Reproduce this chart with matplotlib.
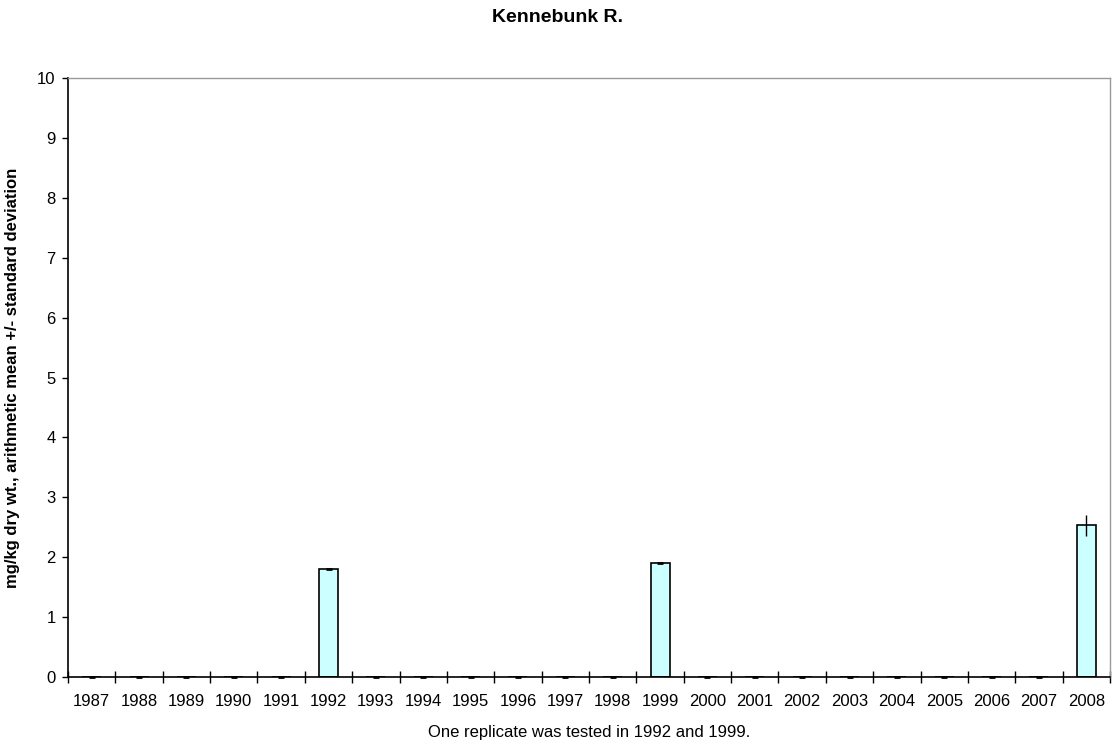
import matplotlib
matplotlib.use("Agg")
import matplotlib.pyplot as plt
import numpy as np

plt.rcParams['font.family'] = ['Liberation Sans', 'DejaVu Sans']

years = [str(y) for y in range(1987, 2009)]
means = [0, 0, 0, 0, 0, 1.80, 0, 0, 0, 0, 0, 0, 1.90, 0, 0, 0, 0, 0, 0, 0, 0, 2.53]
sds = [0, 0, 0, 0, 0, 0, 0, 0, 0, 0, 0, 0, 0, 0, 0, 0, 0, 0, 0, 0, 0, 0.18]

W, H = 1116, 744
fig = plt.figure(figsize=(W / 100, H / 100), dpi=100)
left, right, top, bottom = 68, 1110, 78, 677
ax = fig.add_axes([left / W, 1 - bottom / H, (right - left) / W, (bottom - top) / H])
x = np.arange(len(years))
m = np.array(means)
s = np.array(sds)
ax.bar(x, m, width=0.4, color='#ccffff', edgecolor='black', linewidth=1.2, zorder=2)
has_sd = s > 0
ax.errorbar(x[has_sd], m[has_sd], yerr=s[has_sd], fmt='none', ecolor='black',
            elinewidth=1, capsize=0, zorder=3)
ax.plot(x[~has_sd], m[~has_sd], linestyle='none', marker='_', markersize=4,
        markeredgewidth=2, color='black', zorder=3, clip_on=False)

ax.set_xlim(-0.5, len(years) - 0.5)
ax.set_ylim(0, 10)
ax.set_yticks(range(0, 11))
ax.set_xticks(x)
ax.set_xticklabels(years, fontsize=12)
ax.set_xticks(np.arange(-0.5, len(years), 1), minor=True)
ax.tick_params(axis='x', which='major', length=0, pad=12)
ax.tick_params(axis='x', which='minor', direction='inout', length=9, width=1)
ax.tick_params(axis='y', direction='out', length=4, width=1, pad=5, labelsize=12)
for sp in ['left', 'bottom']:
    ax.spines[sp].set_color('black')
    ax.spines[sp].set_linewidth(1.2)
for sp in ['top', 'right']:
    ax.spines[sp].set_color('#999999')
    ax.spines[sp].set_linewidth(1)

ax.set_ylabel('mg/kg dry wt., arithmetic mean +/- standard deviation', fontsize=12,
              fontweight='bold', labelpad=12)
fig.text(0.5, 1 - 18 / H, 'Kennebunk R.', ha='center', va='center', fontsize=14, fontweight='bold')
fig.text((left + right) / 2 / W, 1 - 732 / H, 'One replicate was tested in 1992 and 1999.',
         ha='center', va='center', fontsize=12)

fig.savefig('out.png', dpi=100)
